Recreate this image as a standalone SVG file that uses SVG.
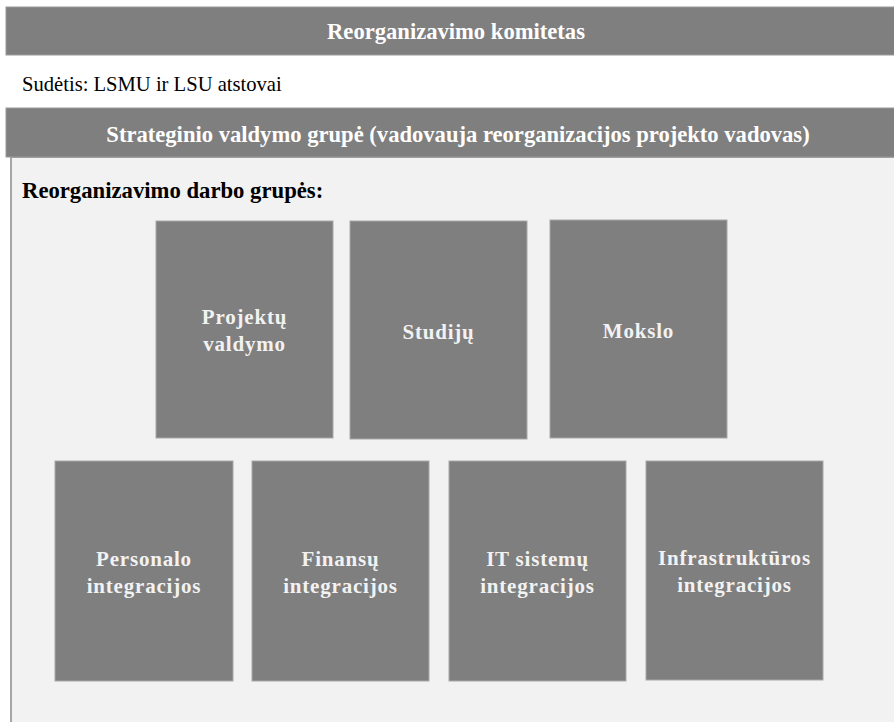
<svg xmlns="http://www.w3.org/2000/svg" width="894" height="722" viewBox="0 0 894 722">
<style>
.bar{fill:#7f7f7f;stroke:#9a9a9a;stroke-width:1}
.box{fill:#7f7f7f;stroke:#a8a8a8;stroke-width:1}
.ht{font-family:"Liberation Serif",serif;font-weight:bold;font-size:22.6px;fill:#ffffff;text-anchor:middle}
.bt{font-family:"Liberation Serif",serif;font-weight:bold;font-size:21px;fill:#f2f2f2;text-anchor:middle;letter-spacing:0.8px}
.nt{font-family:"Liberation Serif",serif;font-size:20.6px;fill:#000}
.st{font-family:"Liberation Serif",serif;font-weight:bold;font-size:22.7px;fill:#000}
</style>
<rect x="0" y="0" width="894" height="722" fill="#ffffff"/>
<g id="komitetas">
<rect class="bar" x="6" y="7" width="890" height="48"/>
<text class="ht" x="456" y="39">Reorganizavimo komitetas</text>
</g>
<g id="sudetis">
<text class="nt" x="22" y="91">Sudėtis: LSMU ir LSU atstovai</text>
</g>
<g id="strateginio">
<rect x="11" y="157" width="885" height="567" fill="#f2f2f2" stroke="#a6a6a6" stroke-width="2"/>
<rect class="bar" x="6" y="108" width="890" height="49"/>
<text class="ht" x="458" y="142">Strateginio valdymo grupė (vadovauja reorganizacijos projekto vadovas)</text>
<text class="st" x="22" y="198">Reorganizavimo darbo grupės:</text>
</g>
<g id="projektu">
<rect class="box" x="156" y="221" width="177" height="217"/>
<text class="bt" x="244.5" y="324">Projektų</text>
<text class="bt" x="244.5" y="351">valdymo</text>
</g>
<g id="studiju">
<rect class="box" x="350" y="221" width="177" height="218"/>
<text class="bt" x="438.5" y="339">Studijų</text>
</g>
<g id="mokslo">
<rect class="box" x="550" y="220" width="177" height="218"/>
<text class="bt" x="638.5" y="338">Mokslo</text>
</g>
<g id="personalo">
<rect class="box" x="55" y="461" width="178" height="220"/>
<text class="bt" x="144" y="566">Personalo</text>
<text class="bt" x="144" y="593">integracijos</text>
</g>
<g id="finansu">
<rect class="box" x="252" y="461" width="177" height="220"/>
<text class="bt" x="340.5" y="566">Finansų</text>
<text class="bt" x="340.5" y="593">integracijos</text>
</g>
<g id="it">
<rect class="box" x="449" y="461" width="177" height="220"/>
<text class="bt" x="537.5" y="566">IT sistemų</text>
<text class="bt" x="537.5" y="593">integracijos</text>
</g>
<g id="infrastrukturos">
<rect class="box" x="646" y="461" width="177" height="219"/>
<text class="bt" x="734.5" y="565">Infrastruktūros</text>
<text class="bt" x="734.5" y="592">integracijos</text>
</g>
<g id="connectors"></g>
</svg>
